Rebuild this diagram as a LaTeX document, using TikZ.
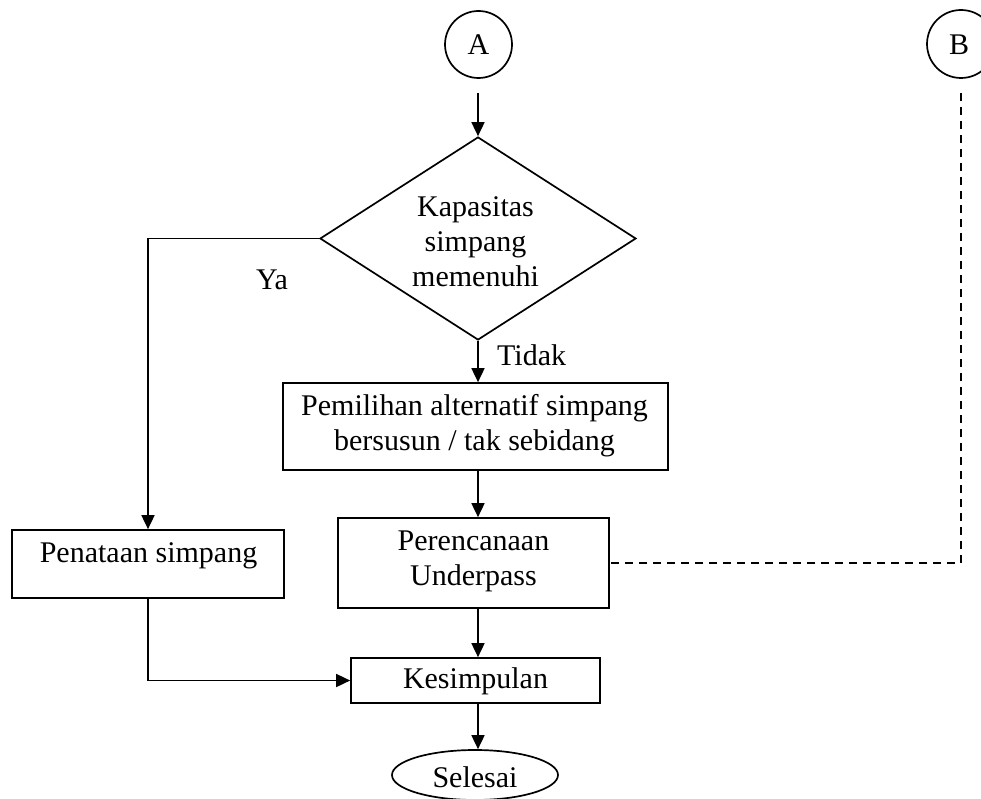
\documentclass[tikz,border=0pt]{standalone}
\usepackage{fontspec}
\setmainfont{Liberation Serif}
\usetikzlibrary{shapes.geometric,arrows.meta}
\tikzset{
  lw/.style={line width=1.7pt},
  box/.style={draw, lw, rectangle, inner sep=0pt},
  txt/.style={inner sep=0pt, align=center, font=\fontsize{30}{35}\selectfont},
  conn/.style={lw, -{Triangle[length=14pt,width=13pt]}},
  dashconn/.style={lw, dash pattern=on 8pt off 6pt}
}
\begin{document}
\begin{tikzpicture}[x=1pt,y=-1pt]
\useasboundingbox (0,0) rectangle (981,799);
\clip (0,0) rectangle (981,799);
% connector circles
\node[draw, circle, lw, minimum size=67pt, inner sep=0pt] (A) at (478.5,44.5) {};
\node[txt, anchor=base] (Atxt) at (478.5,55) {A};
\node[draw, circle, lw, minimum size=68pt, inner sep=0pt] (B) at (961,44) {};
\node[txt, anchor=base] (Btxt) at (959,55) {B};
\coordinate (a1) at (478,93);
\coordinate (b1) at (961,93);
% decision
\node[draw, diamond, lw, minimum width=316pt, minimum height=203pt, inner sep=0pt] (dia) at (478,238.5) {};
\node[txt, anchor=base] (diatxt) at (475.5,287) {Kapasitas\\simpang\\memenuhi};
% boxes
\node[box, minimum width=385pt, minimum height=87pt] (pem) at (475.5,426.5) {};
\node[txt, anchor=base] (pemtxt) at (474.5,450) {Pemilihan alternatif simpang\\bersusun / tak sebidang};
\node[box, minimum width=271pt, minimum height=90pt] (per) at (473.5,563) {};
\node[txt, anchor=base] (pertxt) at (473.5,585) {Perencanaan\\Underpass};
\node[box, minimum width=272pt, minimum height=68pt] (pen) at (148,564) {};
\node[txt, anchor=base] (pentxt) at (148.5,562) {Penataan simpang};
\node[box, minimum width=249pt, minimum height=45pt] (kes) at (475.5,680.5) {};
\node[txt, anchor=base] (kestxt) at (475.5,688) {Kesimpulan};
\node[draw, ellipse, lw, minimum width=166pt, minimum height=50pt, inner sep=0pt] (sel) at (475,775) {};
\node[txt, anchor=base] (seltxt) at (475,787) {Selesai};
% labels
\node[txt, anchor=base] (ya) at (272,289) {Ya};
\node[txt, anchor=base west] (tidak) at (497,365) {Tidak};
% connectors
\draw[conn] (a1) -- (dia.north);
\draw[conn] (dia.west) -| (pen.north);
\draw[conn] (dia.south) -- (dia.south |- pem.north);
\draw[conn] (pem.south -| dia.south) -- (dia.south |- per.north);
\draw[conn] (per.south -| dia.south) -- (dia.south |- kes.north);
\draw[conn] (pen.south) |- (kes.west);
\draw[conn] (kes.south -| dia.south) -- (dia.south |- sel.north);
\draw[dashconn] (b1) |- (per.east);
\end{tikzpicture}
\end{document}
